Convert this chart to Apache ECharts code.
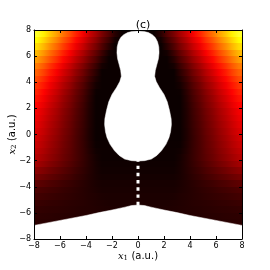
<!DOCTYPE html>
<html><head><meta charset="utf-8">
<script src="https://cdn.jsdelivr.net/npm/echarts@6/dist/echarts.min.js"></script>
<style>html,body{margin:0;padding:0;background:#fff}#c{width:270px;height:270px}</style>
</head><body><div id="c"></div>
<script>
// ---- data ----
const titleText = '(c)';
const tickValues = [-8, -6, -4, -2, 0, 2, 4, 6, 8];
// cell centres of the colour field
const x1Centers = [-7.75,-7.25,-6.75,-6.25,-5.75,-5.25,-4.75,-4.25,-3.75,-3.25,-2.75,-2.25,-1.75,-1.25,-0.75,-0.25,
                   0.25,0.75,1.25,1.75,2.25,2.75,3.25,3.75,4.25,4.75,5.25,5.75,6.25,6.75,7.25,7.75];
const x2Centers = [7.75,7.25,6.75,6.25,5.75,5.25,4.75,4.25,3.75,3.25,2.75,2.25,1.75,1.25,0.75,0.25,
                   -0.25,-0.75,-1.25,-1.75,-2.25,-2.75,-3.25,-3.75,-4.25,-4.75,-5.25,-5.75,-6.25,-6.75];
// field value (0..1 on the "hot" colour scale), one row per x2 centre
const field = [
 [.787,.725,.662,.601,.539,.476,.415,.352,.290,.229,.166,.105,.042,0,0,0,0,0,0,.042,.105,.166,.229,.290,.352,.415,.476,.539,.601,.662,.725,.787],
 [.741,.681,.620,.559,.498,.438,.377,.317,.256,.196,.134,.074,.013,0,0,0,0,0,0,.013,.074,.134,.196,.256,.317,.377,.438,.498,.559,.620,.681,.741],
 [.693,.635,.575,.516,.458,.398,.339,.281,.221,.163,.103,.044,0,0,0,0,0,0,0,0,.044,.103,.163,.221,.281,.339,.398,.458,.516,.575,.635,.693],
 [.642,.585,.528,.471,.414,.356,.299,.243,.186,.129,.072,.014,0,0,0,0,0,0,0,0,.014,.072,.129,.186,.243,.299,.356,.414,.471,.528,.585,.642],
 [.597,.542,.487,.431,.376,.320,.265,.210,.154,.099,.043,0,0,0,0,0,0,0,0,0,0,.043,.099,.154,.210,.265,.320,.376,.431,.487,.542,.597],
 [.548,.495,.442,.389,.336,.282,.229,.176,.123,.070,.017,0,0,0,0,0,0,0,0,0,0,.017,.070,.123,.176,.229,.282,.336,.389,.442,.495,.548],
 [.508,.457,.406,.354,.304,.253,.201,.150,.098,.047,0,0,0,0,0,0,0,0,0,0,0,0,.047,.098,.150,.201,.253,.304,.354,.406,.457,.508],
 [.474,.424,.375,.325,.276,.227,.177,.127,.078,.029,0,0,0,0,0,0,0,0,0,0,0,0,.029,.078,.127,.177,.227,.276,.325,.375,.424,.474],
 [.442,.395,.347,.299,.252,.205,.156,.109,.062,.015,0,0,0,0,0,0,0,0,0,0,0,0,.015,.062,.109,.156,.205,.252,.299,.347,.395,.442],
 [.414,.368,.323,.278,.232,.186,.141,.096,.050,.004,0,0,0,0,0,0,0,0,0,0,0,0,.004,.050,.096,.141,.186,.232,.278,.323,.368,.414],
 [.390,.347,.304,.261,.216,.173,.130,.087,.042,0,0,0,0,0,0,0,0,0,0,0,0,0,0,.042,.087,.130,.173,.216,.261,.304,.347,.390],
 [.370,.329,.288,.246,.204,.163,.121,.080,.038,0,0,0,0,0,0,0,0,0,0,0,0,0,0,.038,.080,.121,.163,.204,.246,.288,.329,.370],
 [.349,.310,.271,.232,.192,.153,.114,.075,.035,0,0,0,0,0,0,0,0,0,0,0,0,0,0,.035,.075,.114,.153,.192,.232,.271,.310,.349],
 [.336,.298,.260,.223,.185,.147,.109,.072,.034,0,0,0,0,0,0,0,0,0,0,0,0,0,0,.034,.072,.109,.147,.185,.223,.260,.298,.336],
 [.323,.286,.250,.214,.178,.141,.105,.069,.033,0,0,0,0,0,0,0,0,0,0,0,0,0,0,.033,.069,.105,.141,.178,.214,.250,.286,.323],
 [.309,.275,.240,.205,.170,.136,.101,.066,.031,0,0,0,0,0,0,0,0,0,0,0,0,0,0,.031,.066,.101,.136,.170,.205,.240,.275,.309],
 [.295,.262,.229,.196,.163,.130,.097,.064,.031,0,0,0,0,0,0,0,0,0,0,0,0,0,0,.031,.064,.097,.130,.163,.196,.229,.262,.295],
 [.282,.251,.220,.189,.158,.127,.096,.065,.034,.003,.002,.002,.002,.002,.002,.002,.002,.002,.002,.002,.002,.002,.003,.034,.065,.096,.127,.158,.189,.220,.251,.282],
 [.267,.239,.210,.181,.152,.124,.095,.066,.037,.009,.003,.003,.003,.003,.003,.003,.003,.003,.003,.003,.003,.003,.009,.037,.066,.095,.124,.152,.181,.210,.239,.267],
 [.251,.225,.199,.172,.146,.120,.094,.067,.041,.015,.004,.004,.004,.004,.004,.004,.004,.004,.004,.004,.004,.004,.015,.041,.067,.094,.120,.146,.172,.199,.225,.251],
 [.225,.202,.179,.156,.133,.110,.087,.064,.041,.018,.007,.007,.007,.007,.007,.007,.007,.007,.007,.007,.007,.007,.018,.041,.064,.087,.110,.133,.156,.179,.202,.225],
 [.191,.172,.153,.134,.115,.096,.077,.058,.039,.020,.010,.010,.010,.010,.010,.010,.010,.010,.010,.010,.010,.010,.020,.039,.058,.077,.096,.115,.134,.153,.172,.191],
 [.157,.142,.127,.112,.097,.082,.067,.052,.037,.022,.014,.014,.014,.014,.014,.014,.014,.014,.014,.014,.014,.014,.022,.037,.052,.067,.082,.097,.112,.127,.142,.157],
 [.123,.112,.101,.090,.079,.068,.057,.046,.035,.024,.018,.018,.018,.018,.018,.018,.018,.018,.018,.018,.018,.018,.024,.035,.046,.057,.068,.079,.090,.101,.112,.123],
 [.098,.090,.083,.075,.067,.059,.051,.043,.035,.027,.022,.022,.022,.022,.022,.022,.022,.022,.022,.022,.022,.022,.027,.035,.043,.051,.059,.067,.075,.083,.090,.098],
 [.082,.077,.071,.065,.060,.054,.048,.043,.037,.032,.026,.025,.025,.025,.025,.025,.025,.025,.025,.025,.025,.026,.032,.037,.043,.048,.054,.060,.065,.071,.077,.082],
 [.069,.065,.061,.057,.053,.049,.045,.042,.038,.034,.030,.027,.027,.027,.027,.027,.027,.027,.027,.027,.027,.030,.034,.038,.042,.045,.049,.053,.057,.061,.065,.069],
 [.059,.056,.053,.051,.048,.045,.043,.040,.038,.035,.032,.030,.029,.029,.029,.029,.029,.029,.029,.029,.030,.032,.035,.038,.040,.043,.045,.048,.051,.053,.056,.059],
 [.052,.050,.048,.046,.044,.042,.040,.038,.037,.035,.033,.031,.030,.030,.030,.030,.030,.030,.030,.030,.031,.033,.035,.037,.038,.040,.042,.044,.046,.048,.050,.052],
 [.049,.047,.045,.044,.042,.041,.039,.037,.036,.034,.032,.031,.030,.030,.030,.030,.030,.030,.030,.030,.031,.032,.034,.036,.037,.039,.041,.042,.044,.045,.047,.049]
];
// white pear-shaped excluded region (boundary points)
const pearX = [0,0.45,0.8,1.1,1.33,1.5,1.6,1.62,1.57,1.45,1.33,1.28,1.4,1.65,2.0,2.25,2.42,2.55,2.57,2.5,
               2.38,2.15,1.8,1.45,1.03,0.5,0,-0.5,-1.03,-1.45,-1.8,-2.15,-2.38,-2.5,-2.57,-2.55,-2.42,
               -2.25,-2.0,-1.65,-1.4,-1.28,-1.33,-1.45,-1.57,-1.62,-1.6,-1.5,-1.33,-1.1,-0.8,-0.45];
const pearY = [7.92,7.89,7.8,7.64,7.42,7.1,6.7,6.26,5.8,5.35,4.9,4.45,4.05,3.6,3.07,2.5,1.85,1.2,0.77,0.2,
               -0.25,-0.75,-1.25,-1.6,-1.88,-2.0,-2.03,-2.0,-1.88,-1.6,-1.25,-0.75,-0.25,0.2,0.77,1.2,1.85,
               2.5,3.07,3.6,4.05,4.45,4.9,5.35,5.8,6.26,6.7,7.1,7.42,7.64,7.8,7.89];
// white excluded region at the bottom
const floorX = [-8,-6,-4,-3,-2,-1,-0.5,0,0.5,1,2,3,4,6,8,8,-8];
const floorY = [-6.96,-6.58,-6.2,-5.98,-5.78,-5.56,-5.44,-5.4,-5.44,-5.56,-5.78,-5.98,-6.2,-6.58,-6.96,-8,-8];
// white dashed segment
const dashX = [0, 0];
const dashY = [-5.4, -2.03];

// ---- rendering ----
function hot(v) {
  const c = x => Math.max(0, Math.min(1, x));
  const r = c(0.0416 + v * (1 - 0.0416) / 0.365079);
  const g = c((v - 0.365079) / (0.746032 - 0.365079));
  const b = c((v - 0.746032) / (1 - 0.746032));
  return 'rgb(' + Math.round(r * 255) + ',' + Math.round(g * 255) + ',' + Math.round(b * 255) + ')';
}
const nCols = x1Centers.length;
const cells = [];
for (let j = 0; j < x2Centers.length; j++)
  for (let i = 0; i < nCols; i++)
    cells.push([x1Centers[i], x2Centers[j], field[j][i], i, j]);
const halfCell = 0.25;

const fmt = v => (v < 0 ? '\u2212' + Math.abs(v) : String(v));
const font = 'DejaVu Sans';
function axisCommon(pos, showLabel) {
  return {
    type: 'value', min: -8, max: 8, interval: 2, position: pos, z: 10,
    axisLine: { show: true, onZero: false, lineStyle: { color: '#000', width: 1 } },
    axisTick: { show: true, inside: true, length: 3, lineStyle: { color: '#000', width: 1 } },
    axisLabel: { show: showLabel, formatter: fmt, fontSize: 8, color: '#000', fontFamily: font, margin: 3 },
    splitLine: { show: false }
  };
}
const richName = {
  i: { fontFamily: 'DejaVu Serif', fontStyle: 'italic', fontSize: 10, color: '#000' },
  s: { fontFamily: 'DejaVu Serif', fontSize: 7, color: '#000', padding: [5, 0, 0, 0] },
  t: { fontFamily: font, fontSize: 10, color: '#000' }
};
const xb = axisCommon('bottom', true);
xb.name = '{i|x}{s|1} {t|(a.u.)}';
xb.nameLocation = 'middle'; xb.nameGap = 11; xb.nameMoveOverlap = false;
xb.nameTextStyle = { rich: richName };
const yl = axisCommon('left', true);
yl.name = '{i|x}{s|2} {t|(a.u.)}';
yl.nameLocation = 'middle'; yl.nameGap = 16; yl.nameRotate = 90; yl.nameMoveOverlap = false;
yl.nameTextStyle = { rich: richName };

const chart = echarts.init(document.getElementById('c'), null, { renderer: 'canvas' });
chart.setOption({
  animation: false,
  backgroundColor: '#fff',
  title: { text: titleText, left: 138, top: 15, textAlign: 'center',
           textStyle: { fontSize: 11, fontWeight: 'normal', color: '#000', fontFamily: font } },
  grid: { left: 34, right: 28, top: 30, bottom: 31, containLabel: false, outerBoundsMode: 'none' },
  xAxis: [xb, axisCommon('top', false)],
  yAxis: [yl, axisCommon('right', false)],
  series: [
    {
      // colour field: each row of cells is shaded smoothly between neighbouring cell centres
      type: 'custom', xAxisIndex: 0, yAxisIndex: 0, z: 1, silent: true, clip: true,
      data: cells,
      renderItem: function (params, api) {
        const x = api.value(0), y = api.value(1), v = api.value(2);
        const i = api.value(3), j = api.value(4);
        const top = Math.round(api.coord([x, y + halfCell])[1]);
        const bot = Math.round(api.coord([x, y - halfCell])[1]);
        const cx = Math.round(api.coord([x, y])[0]);
        const children = [];
        if (i === 0) {
          const lx = Math.round(api.coord([x - halfCell, y])[0]);
          children.push({ type: 'rect', shape: { x: lx, y: top, width: cx - lx, height: bot - top },
                          style: { fill: hot(v) } });
        }
        if (i < nCols - 1) {
          const nx = x1Centers[i + 1];
          const nv = field[j][i + 1];
          const rx = Math.round(api.coord([nx, y])[0]);
          children.push({ type: 'rect', shape: { x: cx, y: top, width: rx - cx, height: bot - top },
                          style: { fill: new echarts.graphic.LinearGradient(0, 0, 1, 0,
                            [{ offset: 0, color: hot(v) }, { offset: 1, color: hot(nv) }]) } });
        } else {
          const rx = Math.round(api.coord([x + halfCell, y])[0]);
          children.push({ type: 'rect', shape: { x: cx, y: top, width: rx - cx, height: bot - top },
                          style: { fill: hot(v) } });
        }
        return { type: 'group', children: children };
      }
    },
    {
      type: 'custom', xAxisIndex: 0, yAxisIndex: 0, z: 2, silent: true, clip: true,
      data: [[0, 0]],
      renderItem: function (params, api) {
        const pear = pearX.map((v, k) => api.coord([v, pearY[k]]));
        const flr = floorX.map((v, k) => api.coord([v, floorY[k]]));
        return { type: 'group', children: [
          { type: 'polygon', shape: { points: pear }, style: { fill: '#fff', stroke: '#fff', lineWidth: 0.5 } },
          { type: 'polygon', shape: { points: flr }, style: { fill: '#fff', stroke: '#fff', lineWidth: 0.5 } }
        ] };
      }
    },
    {
      type: 'line', xAxisIndex: 0, yAxisIndex: 0, z: 3, silent: true,
      data: dashX.map((v, k) => [v, dashY[k]]),
      symbol: 'none',
      lineStyle: { color: '#fff', width: 3, type: [3.4, 3.8], cap: 'butt' }
    }
  ]
});
</script>
</body></html>
